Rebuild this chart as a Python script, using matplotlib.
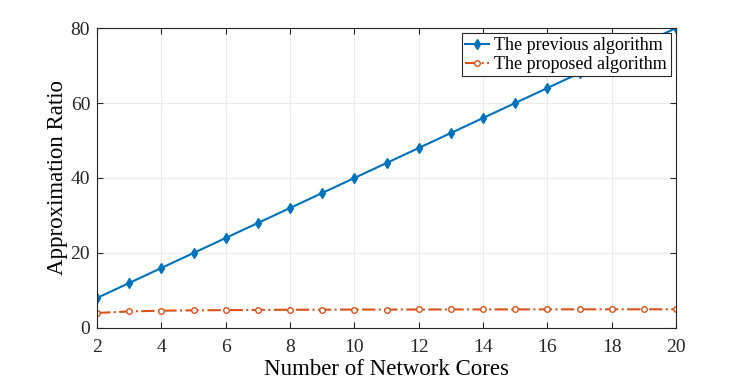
import matplotlib.pyplot as plt

plt.rcParams['font.family'] = ['Liberation Serif', 'DejaVu Serif']

cores = list(range(2, 21))
previous = [8, 12, 16, 20, 24, 28, 32, 36, 40, 44, 48, 52, 56, 60, 64, 68, 72, 76, 80]
proposed = [4.0, 4.4, 4.6, 4.7, 4.75, 4.8, 4.85, 4.87, 4.9, 4.9, 4.92, 4.93, 4.94, 4.95, 4.95, 4.96, 4.96, 4.97, 4.97]

fig, ax = plt.subplots(figsize=(7.47, 3.84), dpi=100)
fig.subplots_adjust(left=0.130, right=0.905, top=0.927, bottom=0.146)

ax.plot(cores, previous, color='#0072BD', marker='d', markersize=5,
        linewidth=1.5, label='The previous algorithm')
ax.plot(cores, proposed, color='#D95319', marker='o', markersize=4,
        markerfacecolor='white', linestyle='-.', linewidth=1.5,
        label='The proposed algorithm')

ax.set_xlim(2, 20)
ax.set_ylim(0, 80)
ax.set_xticks(range(2, 21, 2))
ax.set_yticks(range(0, 81, 20))
ax.grid(True, color='#ebebeb', linewidth=0.8)
ax.set_axisbelow(True)

ax.tick_params(axis='both', which='major', labelsize=14, direction='in',
               length=4, colors='#262626', top=True, right=True)
ax.tick_params(axis='x', pad=8)
ax.tick_params(axis='y', pad=5)
for s in ax.spines.values():
    s.set_color('#262626')
    s.set_linewidth(0.8)

ax.set_xlabel('Number of Network Cores', fontsize=16.5, labelpad=2)
ax.set_ylabel('Approximation Ratio', fontsize=16.5, labelpad=2)

leg = ax.legend(loc='upper right', fontsize=13, fancybox=False,
                edgecolor='#262626', framealpha=1, borderpad=0.2,
                labelspacing=0.1, handlelength=1.3, handletextpad=0.3,
                borderaxespad=0.3)
leg.get_frame().set_linewidth(0.8)

plt.savefig('out.png', dpi=100)
